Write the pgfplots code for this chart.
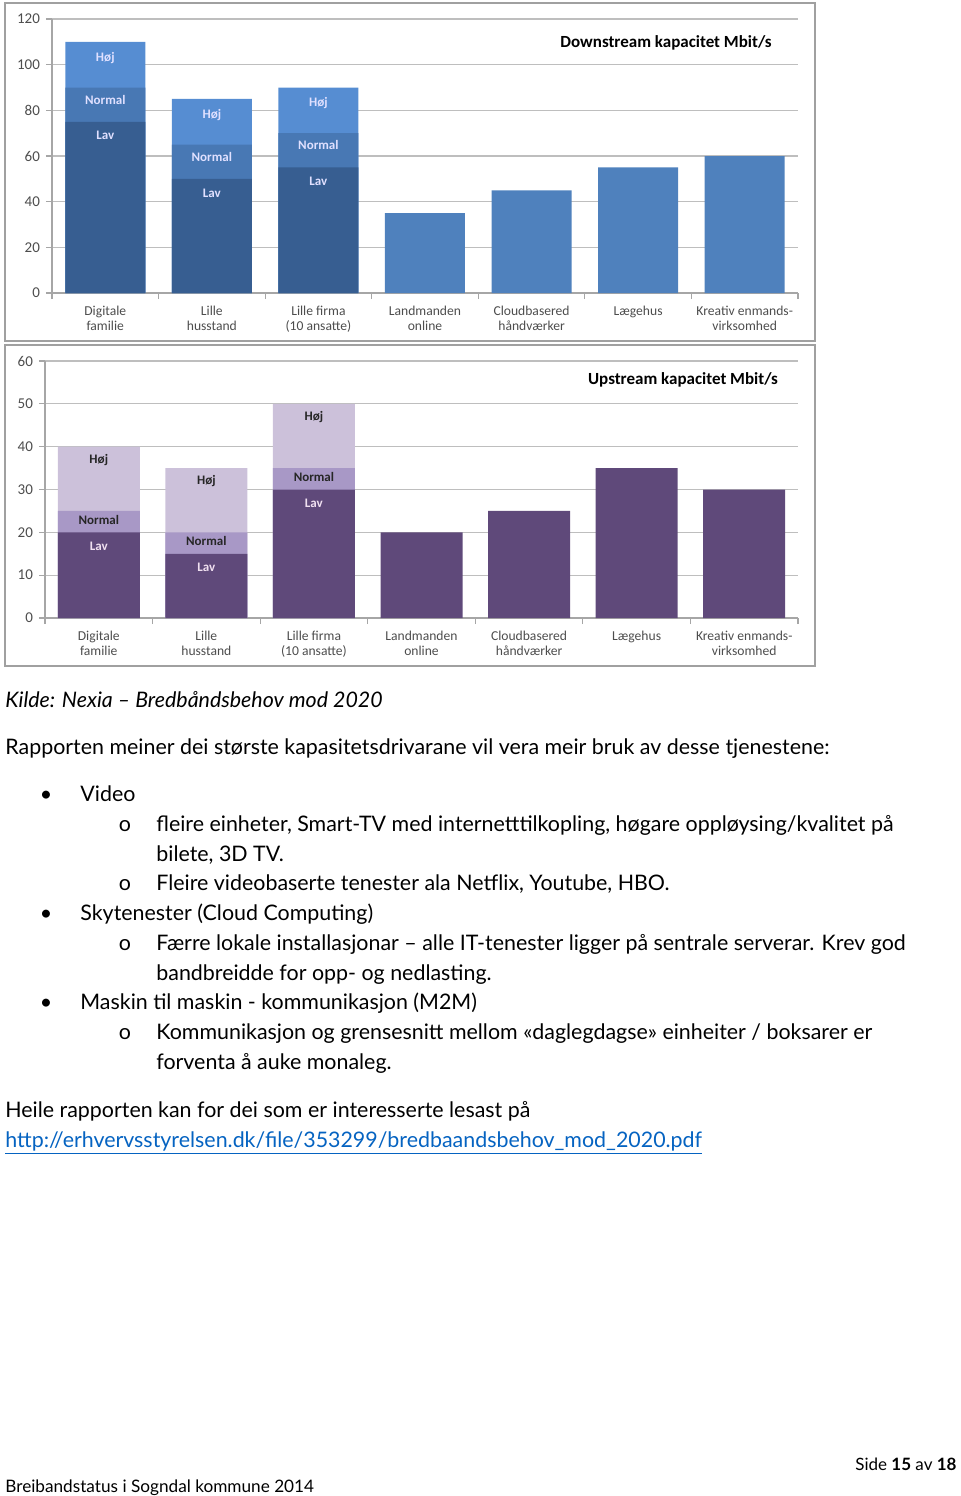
\documentclass[border=0pt]{standalone}
\usepackage{fontspec}
\setmainfont{Lato}
\newfontfamily\chartfont{Carlito}
\usepackage{pgfplots}
\pgfplotsset{compat=1.18}
\definecolor{dsLav}{HTML}{375E91}
\definecolor{dsNormal}{HTML}{4878B4}
\definecolor{dsHoj}{HTML}{568DD2}
\definecolor{dsSingle}{HTML}{4F81BD}
\definecolor{usLav}{HTML}{5F497A}
\definecolor{usNormal}{HTML}{A898C6}
\definecolor{usHoj}{HTML}{CCC1DA}
\definecolor{gridgray}{HTML}{BEBEBE}
\definecolor{axgray}{HTML}{A6A6A6}
\definecolor{labgray}{HTML}{4D4D4D}
\definecolor{framegray}{HTML}{A0A0A0}
\definecolor{linkblue}{HTML}{0563C1}
\newcommand\bodyfont{\fontsize{10.7}{12.8}\selectfont}
\pgfplotsset{
  chartbase/.style={
    anchor=south west, scale only axis,
    xmin=-0.5, xmax=6.5, ymin=0,
    ybar, bar shift=0pt,
    /pgf/number format/assume math mode=true,
    axis x line*=bottom, axis y line*=left,
    axis line style={draw=axgray, line width=0.6pt},
    ymajorgrids, grid style={draw=gridgray, line width=0.6pt},
    tick align=outside, major tick length=3pt,
    tick style={draw=axgray, line width=0.6pt},
    xtick={-0.5,0.5,...,6.5}, xticklabels={},
    extra x ticks={0,1,2,3,4,5,6},
    extra x tick labels={{Digitale\\familie},{Lille\\husstand},{Lille firma\\(10 ansatte)},{Landmanden\\online},{Cloudbasered\\håndværker},{Lægehus},{Kreativ enmands-\\virksomhed}},
    extra x tick style={major tick length=0pt, xticklabel style={align=center, font=\chartfont\fontsize{6.8}{7.6}\selectfont, text=labgray, yshift=-3pt}},
    yticklabel style={font=\chartfont\fontsize{7.5}{8}\selectfont, text=labgray, xshift=0.5pt},
  },
  seglab/.style={bar shift=0pt, draw=none, nodes near coords, point meta=explicit symbolic,
    nodes near coords style={font=\chartfont\bfseries\fontsize{6.5}{7}\selectfont, anchor=center, inner sep=0pt, yshift=#1}},
}
\begin{document}
\begin{tikzpicture}
\path[use as bounding box] (0pt,0pt) rectangle (480pt,-748pt);
% ---------- Downstream ----------
\begin{axis}[chartbase, at={(26pt,-146.5pt)}, width=373pt, height=137pt, ymax=120, ytick={0,20,...,120}, bar width=40pt]
\addplot[fill=dsSingle, draw=none, bar shift=0pt] coordinates {(3,35) (4,45) (5,55) (6,60)};
% cumulative tops of the stacked segments
\addplot[fill=dsHoj, seglab=-8pt, nodes near coords style={text=white!88!blue}] coordinates {(0,110)[Høj] (1,85)[Høj] (2,90)[Høj]};
\addplot[fill=dsNormal, seglab=-6pt, nodes near coords style={text=white!88!blue}] coordinates {(0,90)[Normal] (1,65)[Normal] (2,70)[Normal]};
\addplot[fill=dsLav, seglab=-7pt, nodes near coords style={text=white!88!blue}] coordinates {(0,75)[Lav] (1,50)[Lav] (2,55)[Lav]};
\end{axis}
% ---------- Upstream ----------
\begin{axis}[chartbase, at={(22.5pt,-309pt)}, width=376.5pt, height=128.5pt, ymax=60, ytick={0,10,...,60}, bar width=41pt]
\addplot[fill=usLav, draw=none, bar shift=0pt] coordinates {(3,20) (4,25) (5,35) (6,30)};
\addplot[fill=usHoj, seglab=-6.5pt, nodes near coords style={text=black!85}] coordinates {(0,40)[Høj] (1,35)[Høj] (2,50)[Høj]};
\addplot[fill=usNormal, seglab=-4.5pt, nodes near coords style={text=black!85}] coordinates {(0,25)[Normal] (1,20)[Normal] (2,35)[Normal]};
\addplot[fill=usLav, seglab=-7pt, nodes near coords style={text=white!88!violet}] coordinates {(0,20)[Lav] (1,15)[Lav] (2,30)[Lav]};
\end{axis}
\begin{scope}[x=0.5pt,y=-0.5pt]
\draw[framegray, line width=0.8pt] (5,3) rectangle (815,341);
\draw[framegray, line width=0.8pt] (5,345) rectangle (815,666);
\node[font=\chartfont\bfseries\fontsize{8.5}{10}\selectfont] at (666,43) {Downstream kapacitet Mbit/s};
\node[font=\chartfont\bfseries\fontsize{8.5}{10}\selectfont] at (683,380) {Upstream kapacitet Mbit/s};
\begin{scope}[every node/.style={inner sep=0pt, font=\bodyfont}]
\node[anchor=base west] at (5,707) {\itshape Kilde: Nexia – Bredbåndsbehov mod 2020};
\node[anchor=base west] at (5,754) {Rapporten meiner dei største kapasitetsdrivarane vil vera meir bruk av desse tjenestene:};
\node[anchor=base] at (46,801) {•};
\node[anchor=base west] at (80,801) {Video};
\node[anchor=base] at (125,831) {o};
\node[anchor=base west] at (156,831) {fleire einheter, Smart-TV med internetttilkopling, høgare oppløysing/kvalitet på};
\node[anchor=base west] at (156,861) {bilete, 3D TV.};
\node[anchor=base] at (125,890) {o};
\node[anchor=base west] at (156,890) {Fleire videobaserte tenester ala Netflix, Youtube, HBO.};
\node[anchor=base] at (46,920) {•};
\node[anchor=base west] at (80,920) {Skytenester (Cloud Computing)};
\node[anchor=base] at (125,950) {o};
\node[anchor=base west] at (156,950) {Færre lokale installasjonar – alle IT-tenester ligger på sentrale serverar. Krev god};
\node[anchor=base west] at (156,980) {bandbreidde for opp- og nedlasting.};
\node[anchor=base] at (46,1009) {•};
\node[anchor=base west] at (80,1009) {Maskin til maskin - kommunikasjon (M2M)};
\node[anchor=base] at (125,1039) {o};
\node[anchor=base west] at (156,1039) {Kommunikasjon og grensesnitt mellom «daglegdagse» einheiter / boksarer er};
\node[anchor=base west] at (156,1069) {forventa å auke monaleg.};
\node[anchor=base west] at (5,1117) {Heile rapporten kan for dei som er interesserte lesast på};
\node[anchor=base west, text=linkblue] at (5,1147) {\underline{http://erhvervsstyrelsen.dk/file/353299/bredbaandsbehov\_mod\_2020.pdf}};
\node[anchor=base east, font=\fontsize{8.5}{10}\selectfont] at (957,1470) {Side \textbf{15} av \textbf{18}};
\node[anchor=base west, font=\fontsize{8.6}{10}\selectfont] at (5,1492) {Breibandstatus i Sogndal kommune 2014};
\end{scope}
\end{scope}
\end{tikzpicture}
\end{document}
